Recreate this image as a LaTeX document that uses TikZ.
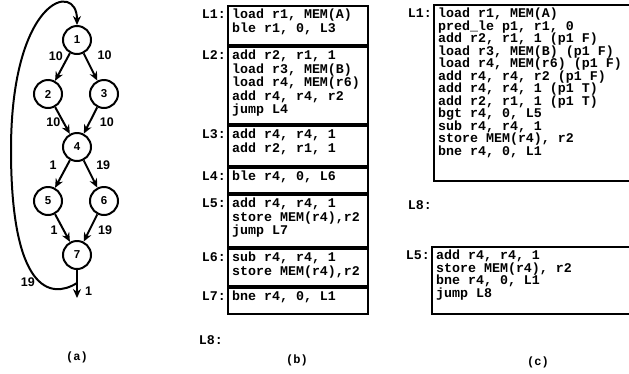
\documentclass[tikz,border=0pt]{standalone}
\usepackage{fontspec}
\setmainfont{Liberation Sans}
\setmonofont{Liberation Mono}
\usetikzlibrary{arrows.meta,positioning}

\begin{document}
\begin{tikzpicture}[x=1pt,y=1pt,
  vtx/.style={draw,circle,line width=2pt,minimum size=28pt,inner sep=0pt,
              font=\bfseries\fontsize{11.5}{12}\selectfont},
  arr/.style={line width=2pt,-{Stealth[length=9pt,width=8pt]}},
  wt/.style={font=\bfseries\fontsize{12.5}{13}\selectfont,inner sep=2pt},
  blk/.style={draw,line width=2pt,minimum width=140pt,inner sep=0pt},
  mono/.style={font=\ttfamily\bfseries\fontsize{13.3}{13.5}\selectfont},
  code/.style={mono,align=left,anchor=north west,inner xsep=5pt,inner ysep=4pt,
               execute at begin node=\rule{0pt}{9.5pt}},
  codec/.style={code,font=\ttfamily\bfseries\fontsize{13.3}{12.5}\selectfont},
  tag/.style={code,anchor=north east,inner xsep=1pt},
  subcap/.style={font=\ttfamily\bfseries\fontsize{12}{12}\selectfont}
]
\useasboundingbox (0,0) rectangle (629,-373);
\clip (0,0) rectangle (629,-373);

% (a) flow graph
\node[vtx] (n1) at (77,-40) {1};
\node[vtx] (n2) at (48,-94) {2};
\node[vtx] (n3) at (104,-94) {3};
\node[vtx] (n4) at (77,-147) {4};
\node[vtx] (n5) at (48,-201) {5};
\node[vtx] (n6) at (104,-201) {6};
\node[vtx] (n7) at (77,-255) {7};
\coordinate (sink) at (77,-298);
\coordinate (lp) at (77,-283);
\coordinate (lf) at (11,-150);

\draw[arr] (n1) -- node[wt,left=2.5pt,pos=0.11]{10} (n2);
\draw[arr] (n1) -- node[wt,right=10pt,pos=0.07]{10} (n3);
\draw[arr] (n2) -- node[wt,left=0pt,pos=0.55]{10} (n4);
\draw[arr] (n3) -- node[wt,right=7pt,pos=0.55]{10} (n4);
\draw[arr] (n4) -- node[wt,left=7.5pt,pos=0.19]{1} (n5);
\draw[arr] (n4) -- node[wt,right=7pt,pos=0.19]{19} (n6);
\draw[arr] (n5) -- node[wt,left=3pt,pos=0.57]{1} (n7);
\draw[arr] (n6) -- node[wt,right=5.5pt,pos=0.57]{19} (n7);
\draw[arr] (n7) -- node[wt,right=5pt,pos=0.75]{1} (sink);
\draw[arr] (lp) .. controls (50,-300) and (11,-290) .. node[wt,below left=-1pt and -4pt,pos=0.5]{19} (lf)
  .. controls (11,2) and (77,20) .. (n1.north);
\node[subcap] (capa) at (77,-357) {(a)};

% (b) basic blocks
\node[blk,minimum height=39pt,anchor=north west] (b1) at (227,-5) {};
\node[blk,minimum height=77pt,below=0pt of b1] (b2) {};
\node[blk,minimum height=40pt,below=0pt of b2] (b3) {};
\node[blk,minimum height=25pt,below=0pt of b3] (b4) {};
\node[blk,minimum height=52pt,below=0pt of b4] (b5) {};
\node[blk,minimum height=37pt,below=0pt of b5] (b6) {};
\node[blk,minimum height=26pt,below=0pt of b6] (b7) {};

\node[code] (s1) at (b1.north west) {load r1, MEM(A)\\ble r1, 0, L3};
\node[code] (s2) at (b2.north west) {add r2, r1, 1\\load r3, MEM(B)\\load r4, MEM(r6)\\add r4, r4, r2\\jump L4};
\node[code] (s3) at (b3.north west) {add r4, r4, 1\\add r2, r1, 1};
\node[code] (s4) at (b4.north west) {ble r4, 0, L6};
\node[code] (s5) at (b5.north west) {add r4, r4, 1\\store MEM(r4),r2\\jump L7};
\node[code] (s6) at (b6.north west) {sub r4, r4, 1\\store MEM(r4),r2};
\node[code] (s7) at (b7.north west) {bne r4, 0, L1};

\node[tag] (l1) at (s1.north west) {L1:};
\node[tag] (l2) at (s2.north west) {L2:};
\node[tag] (l3) at (s3.north west) {L3:};
\node[tag] (l4) at (s4.north west) {L4:};
\node[tag] (l5) at (s5.north west) {L5:};
\node[tag] (l6) at (s6.north west) {L6:};
\node[tag] (l7) at (s7.north west) {L7:};
\node[mono,anchor=east,inner sep=1pt] (l8) at (224,-340) {L8:};
\node[subcap] (capb) at (297,-360) {(b)};

% (c) predicated code
\node[blk,minimum width=207pt,minimum height=176pt,anchor=north west] (c1) at (433,-4) {};
\node[blk,minimum width=209pt,minimum height=67pt,anchor=north west] (c5) at (431,-246) {};

\node[codec] (u1) at (c1.north west) {load r1, MEM(A)\\pred\_le p1, r1, 0\\add r2, r1, 1 (p1 F)\\load r3, MEM(B) (p1 F)\\load r4, MEM(r6) (p1 F)\\add r4, r4, r2 (p1 F)\\add r4, r4, 1 (p1 T)\\add r2, r1, 1 (p1 T)\\bgt r4, 0, L5\\sub r4, r4, 1\\store MEM(r4), r2\\bne r4, 0, L1};
\node[codec] (u5) at (c5.north west) {add r4, r4, 1\\store MEM(r4), r2\\bne r4, 0, L1\\jump L8};

\node[tag] (k1) at (u1.north west) {L1:};
\node[tag] (k5) at (u5.north west) {L5:};
\node[mono,anchor=east,inner sep=1pt] (k8) at (433,-205) {L8:};
\node[subcap] (capc) at (538,-362) {(c)};
\end{tikzpicture}
\end{document}
